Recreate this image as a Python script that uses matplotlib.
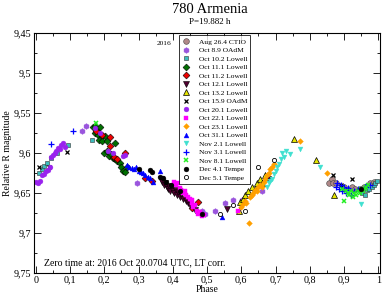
import matplotlib
matplotlib.use("Agg")
import matplotlib.pyplot as plt
from matplotlib.ticker import MultipleLocator, FuncFormatter

plt.rcParams['font.family'] = ['Liberation Serif', 'DejaVu Serif']

# ---- data (phase, relative R magnitude) per night ----
aug26_ph = [0.856, 0.864, 0.869, 0.875, 0.899, 0.923, 0.933, 0.947, 0.958, 0.977, 0.986]
aug26_mag = [9.637, 9.632, 9.637, 9.638, 9.642, 9.643, 9.645, 9.645, 9.643, 9.638, 9.636]

oct8_ph = [0.134, 0.148, 0.295, 0.485, 0.495, 0.523, 0.553, 0.575, 0.602, 0.66]
oct8_mag = [9.572, 9.566, 9.638, 9.672, 9.676, 9.673, 9.662, 9.659, 9.659, 9.648]

oct10_ph = [0.01, 0.018, 0.025, 0.032, 0.045, 0.062, 0.094, 0.164,
            0.952, 0.962, 0.966, 0.972, 0.981, 0.986, 0.991, 0.996]
oct10_mag = [9.625, 9.62, 9.616, 9.612, 9.606, 9.6, 9.59, 9.584,
             9.65, 9.652, 9.646, 9.645, 9.642, 9.64, 9.638, 9.635]

oct11a_ph = [0.168, 0.172, 0.178, 0.187, 0.173, 0.182, 0.192, 0.202, 0.185, 0.192, 0.209, 0.231,
             0.2, 0.207, 0.215, 0.22, 0.226, 0.232, 0.238, 0.245, 0.25, 0.255, 0.262, 0.265]
oct11a_mag = [9.567, 9.566, 9.571, 9.567, 9.575, 9.578, 9.579, 9.579, 9.584, 9.585, 9.585, 9.588,
              9.600, 9.597, 9.604, 9.601, 9.606, 9.608, 9.61, 9.612, 9.618, 9.622, 9.624, 9.618]

oct11b_ph = [0.177, 0.192, 0.216, 0.216, 0.228, 0.236, 0.26, 0.319, 0.339, 0.455, 0.475]
oct11b_mag = [9.573, 9.578, 9.58, 9.591, 9.605, 9.608, 9.6, 9.631, 9.635, 9.669, 9.661]

oct12_ph = [0.365, 0.37, 0.375, 0.378, 0.382, 0.386, 0.39, 0.393, 0.397, 0.40, 0.404, 0.408,
            0.412, 0.416, 0.42, 0.425, 0.43, 0.438, 0.445, 0.45, 0.465, 0.557, 0.679]
oct12_mag = [9.633, 9.636, 9.64, 9.638, 9.642, 9.645, 9.641, 9.647, 9.643, 9.648, 9.65, 9.646,
             9.652, 9.649, 9.655, 9.651, 9.657, 9.66, 9.662, 9.665, 9.671, 9.67, 9.633]

oct13_ph = [0.592, 0.596, 0.606, 0.612, 0.62, 0.631, 0.64, 0.645, 0.655, 0.66, 0.67, 0.754, 0.819, 0.871]
oct13_mag = [9.672, 9.661, 9.657, 9.652, 9.648, 9.643, 9.645, 9.638, 9.633, 9.638, 9.628, 9.582, 9.609, 9.653]

oct15_ph = [0.01, 0.038, 0.09, 0.869, 0.89, 0.923]
oct15_mag = [9.617, 9.617, 9.599, 9.628, 9.64, 9.632]

oct20_ph = [0.002, 0.008, 0.012, 0.017, 0.025, 0.031, 0.036, 0.041, 0.046, 0.051, 0.056,
            0.060, 0.065, 0.070, 0.075, 0.080, 0.085, 0.172, 0.187, 0.21, 0.225, 0.256, 0.262]
oct20_mag = [9.636, 9.637, 9.635, 9.628, 9.626, 9.623, 9.621, 9.617, 9.605, 9.603, 9.60,
             9.598, 9.594, 9.595, 9.59, 9.588, 9.592, 9.569, 9.575, 9.598, 9.60, 9.604, 9.602]

oct22_ph = [0.405, 0.41, 0.415, 0.42, 0.425, 0.43, 0.435, 0.44, 0.445, 0.45, 0.455, 0.46,
            0.465, 0.47, 0.475, 0.48, 0.485, 0.49, 0.455, 0.59]
oct22_mag = [9.636, 9.64, 9.638, 9.644, 9.646, 9.65, 9.648, 9.653, 9.655, 9.658, 9.662, 9.668,
             9.665, 9.672, 9.676, 9.674, 9.679, 9.678, 9.659, 9.672]

oct23_ph = [0.6, 0.605, 0.61, 0.615, 0.621, 0.625, 0.63, 0.635, 0.64, 0.645, 0.65, 0.655,
            0.66, 0.665, 0.67, 0.675, 0.68, 0.685, 0.69, 0.695, 0.77, 0.85]
oct23_mag = [9.668, 9.664, 9.66, 9.662, 9.688, 9.655, 9.652, 9.65, 9.646, 9.648, 9.643, 9.64,
             9.642, 9.636, 9.632, 9.628, 9.625, 9.62, 9.618, 9.614, 9.585, 9.625]

oct31_ph = [0.265, 0.272, 0.28, 0.287, 0.293, 0.3, 0.307, 0.313, 0.32, 0.327, 0.333, 0.343, 0.363, 0.543, 0.965]
oct31_mag = [9.615, 9.617, 9.619, 9.62, 9.618, 9.622, 9.624, 9.625, 9.627, 9.63, 9.631, 9.636, 9.623, 9.68, 9.64]

nov2_ph = [0.675, 0.68, 0.685, 0.69, 0.695, 0.7, 0.705, 0.71, 0.715, 0.718, 0.725, 0.73,
           0.743, 0.772, 0.83, 0.949]
nov2_mag = [9.642, 9.638, 9.635, 9.632, 9.626, 9.622, 9.618, 9.614, 9.608, 9.6, 9.605, 9.598,
            9.601, 9.595, 9.617, 9.664]

nov3_ph = [0.046, 0.109, 0.875, 0.88, 0.885, 0.89, 0.895, 0.9, 0.905, 0.91, 0.915, 0.92,
           0.93, 0.94, 0.96, 0.975]
nov3_mag = [9.589, 9.573, 9.642, 9.638, 9.645, 9.64, 9.648, 9.643, 9.65, 9.644, 9.646, 9.652,
            9.648, 9.645, 9.642, 9.64]

nov8_ph = [0.177, 0.895, 0.9, 0.905, 0.91, 0.915, 0.92, 0.925, 0.93, 0.935, 0.94, 0.945,
           0.95, 0.955, 0.96, 0.965, 0.97]
nov8_mag = [9.562, 9.645, 9.66, 9.648, 9.65, 9.652, 9.647, 9.655, 9.65, 9.653, 9.648, 9.65,
            9.645, 9.647, 9.645, 9.643, 9.64]

dec4_ph = [0.3, 0.333, 0.339, 0.363, 0.371, 0.38, 0.395, 0.42, 0.485, 0.95]
dec4_mag = [9.62, 9.621, 9.624, 9.63, 9.631, 9.636, 9.64, 9.648, 9.676, 9.645]

dec5_ph = [0.538, 0.575, 0.611, 0.65, 0.694]
dec5_mag = [9.676, 9.665, 9.672, 9.617, 9.609]

# ---- figure ----
fig = plt.figure(figsize=(3.82, 2.98), dpi=100)
ax = fig.add_axes([0.089, 0.084, 0.906, 0.805])

ms = 3.5
ax.plot(aug26_ph, aug26_mag, 'o', ms=ms + 0.6, mfc='#b08888', mec='#444444', mew=0.4, ls='none', label='Aug 26.4 CTIO')
ax.plot(oct8_ph, oct8_mag, 'h', ms=ms + 0.6, mfc='#9a55dd', mec='#9a55dd', mew=0.3, ls='none', label='Oct 8.9 OAdM')
ax.plot(oct10_ph, oct10_mag, 's', ms=ms, mfc='#3cbcbc', mec='#333333', mew=0.4, ls='none', label='Oct 10.2 Lowell')
ax.plot(oct11a_ph, oct11a_mag, 'D', ms=ms, mfc='#007000', mec='black', mew=0.4, ls='none', label='Oct 11.1 Lowell')
ax.plot(oct11b_ph, oct11b_mag, 'D', ms=ms, mfc='#ee0000', mec='black', mew=0.4, ls='none', label='Oct 11.2 Lowell')
ax.plot(oct12_ph, oct12_mag, 'v', ms=ms + 0.4, mfc='#500030', mec='black', mew=0.4, ls='none', label='Oct 12.1 Lowell')
ax.plot(oct13_ph, oct13_mag, '^', ms=ms + 0.4, mfc='#e6e600', mec='black', mew=0.5, ls='none', label='Oct 13.2 Lowell')
ax.plot(oct15_ph, oct15_mag, 'x', ms=ms, mec='black', mew=0.9, ls='none', label='Oct 15.9 OAdM')
ax.plot(oct20_ph, oct20_mag, 'o', ms=ms, mfc='#9922ee', mec='#9922ee', mew=0.3, ls='none', label='Oct 20.1 Lowell')
ax.plot(oct22_ph, oct22_mag, 's', ms=ms - 0.3, mfc='#ff00ff', mec='#ff00ff', mew=0.3, ls='none', label='Oct 22.1 Lowell')
ax.plot(oct23_ph, oct23_mag, 'D', ms=ms - 0.6, mfc='#ffa000', mec='#ffa000', mew=0.3, ls='none', label='Oct 23.1 Lowell')
ax.plot(oct31_ph, oct31_mag, '^', ms=ms, mfc='#0000ff', mec='#0000ff', mew=0.3, ls='none', label='Oct 31.1 Lowell')
ax.plot(nov2_ph, nov2_mag, 'v', ms=ms, mfc='#40e0d0', mec='#40e0d0', mew=0.3, ls='none', label='Nov 2.1 Lowell')
ax.plot(nov3_ph, nov3_mag, '+', ms=ms + 0.6, mec='#0000ff', mew=0.9, ls='none', label='Nov 3.1 Lowell')
ax.plot(nov8_ph, nov8_mag, 'x', ms=ms - 0.2, mec='#22ee22', mew=1.1, ls='none', label='Nov 8.1 Lowell')
ax.plot(dec4_ph, dec4_mag, 'o', ms=ms, mfc='black', mec='black', mew=0.3, ls='none', label='Dec 4.1 Tempe')
ax.plot(dec5_ph, dec5_mag, 'o', ms=ms - 0.5, mfc='white', mec='black', mew=0.6, ls='none', label='Dec 5.1 Tempe')

ax.set_xlim(-0.005, 1.005)
ax.set_ylim(9.75, 9.45)

comma = FuncFormatter(lambda v, p: ('%g' % round(v, 3)).replace('.', ','))
ax.xaxis.set_major_locator(MultipleLocator(0.1))
ax.xaxis.set_minor_locator(MultipleLocator(0.05))
ax.yaxis.set_major_locator(MultipleLocator(0.05))
ax.yaxis.set_minor_locator(MultipleLocator(0.025))
ax.xaxis.set_major_formatter(comma)
ax.yaxis.set_major_formatter(comma)
ax.tick_params(which='both', direction='in', top=True, right=True, labelsize=7.3, width=0.6, pad=2)
ax.tick_params(which='major', length=5)
ax.tick_params(which='minor', length=2.5)
for s in ax.spines.values():
    s.set_linewidth(0.8)

ax.set_xlabel('Phase', fontsize=7, labelpad=0)
ax.set_ylabel('Relative R magnitude', fontsize=7, labelpad=1)

leg = ax.legend(loc='upper left', bbox_to_anchor=(0.419, 0.99), borderaxespad=0,
                fontsize=5.4, frameon=True, fancybox=False, edgecolor='black',
                handlelength=1.0, handletextpad=1.2, labelspacing=0.3,
                borderpad=0.4, numpoints=1)
leg.get_frame().set_linewidth(0.7)

ax.text(0.397, 0.955, '2016', transform=ax.transAxes, ha='right', va='center', fontsize=5.3)
ax.text(0.028, 0.042, 'Zero time at: 2016 Oct 20.0704 UTC, LT corr.', transform=ax.transAxes,
        ha='left', va='center', fontsize=7)

fig.text(0.55, 0.968, '780 Armenia', ha='center', va='center', fontsize=10.5)
fig.text(0.55, 0.925, 'P=19.882 h', ha='center', va='center', fontsize=6.5)

fig.savefig('out.png', dpi=100)
